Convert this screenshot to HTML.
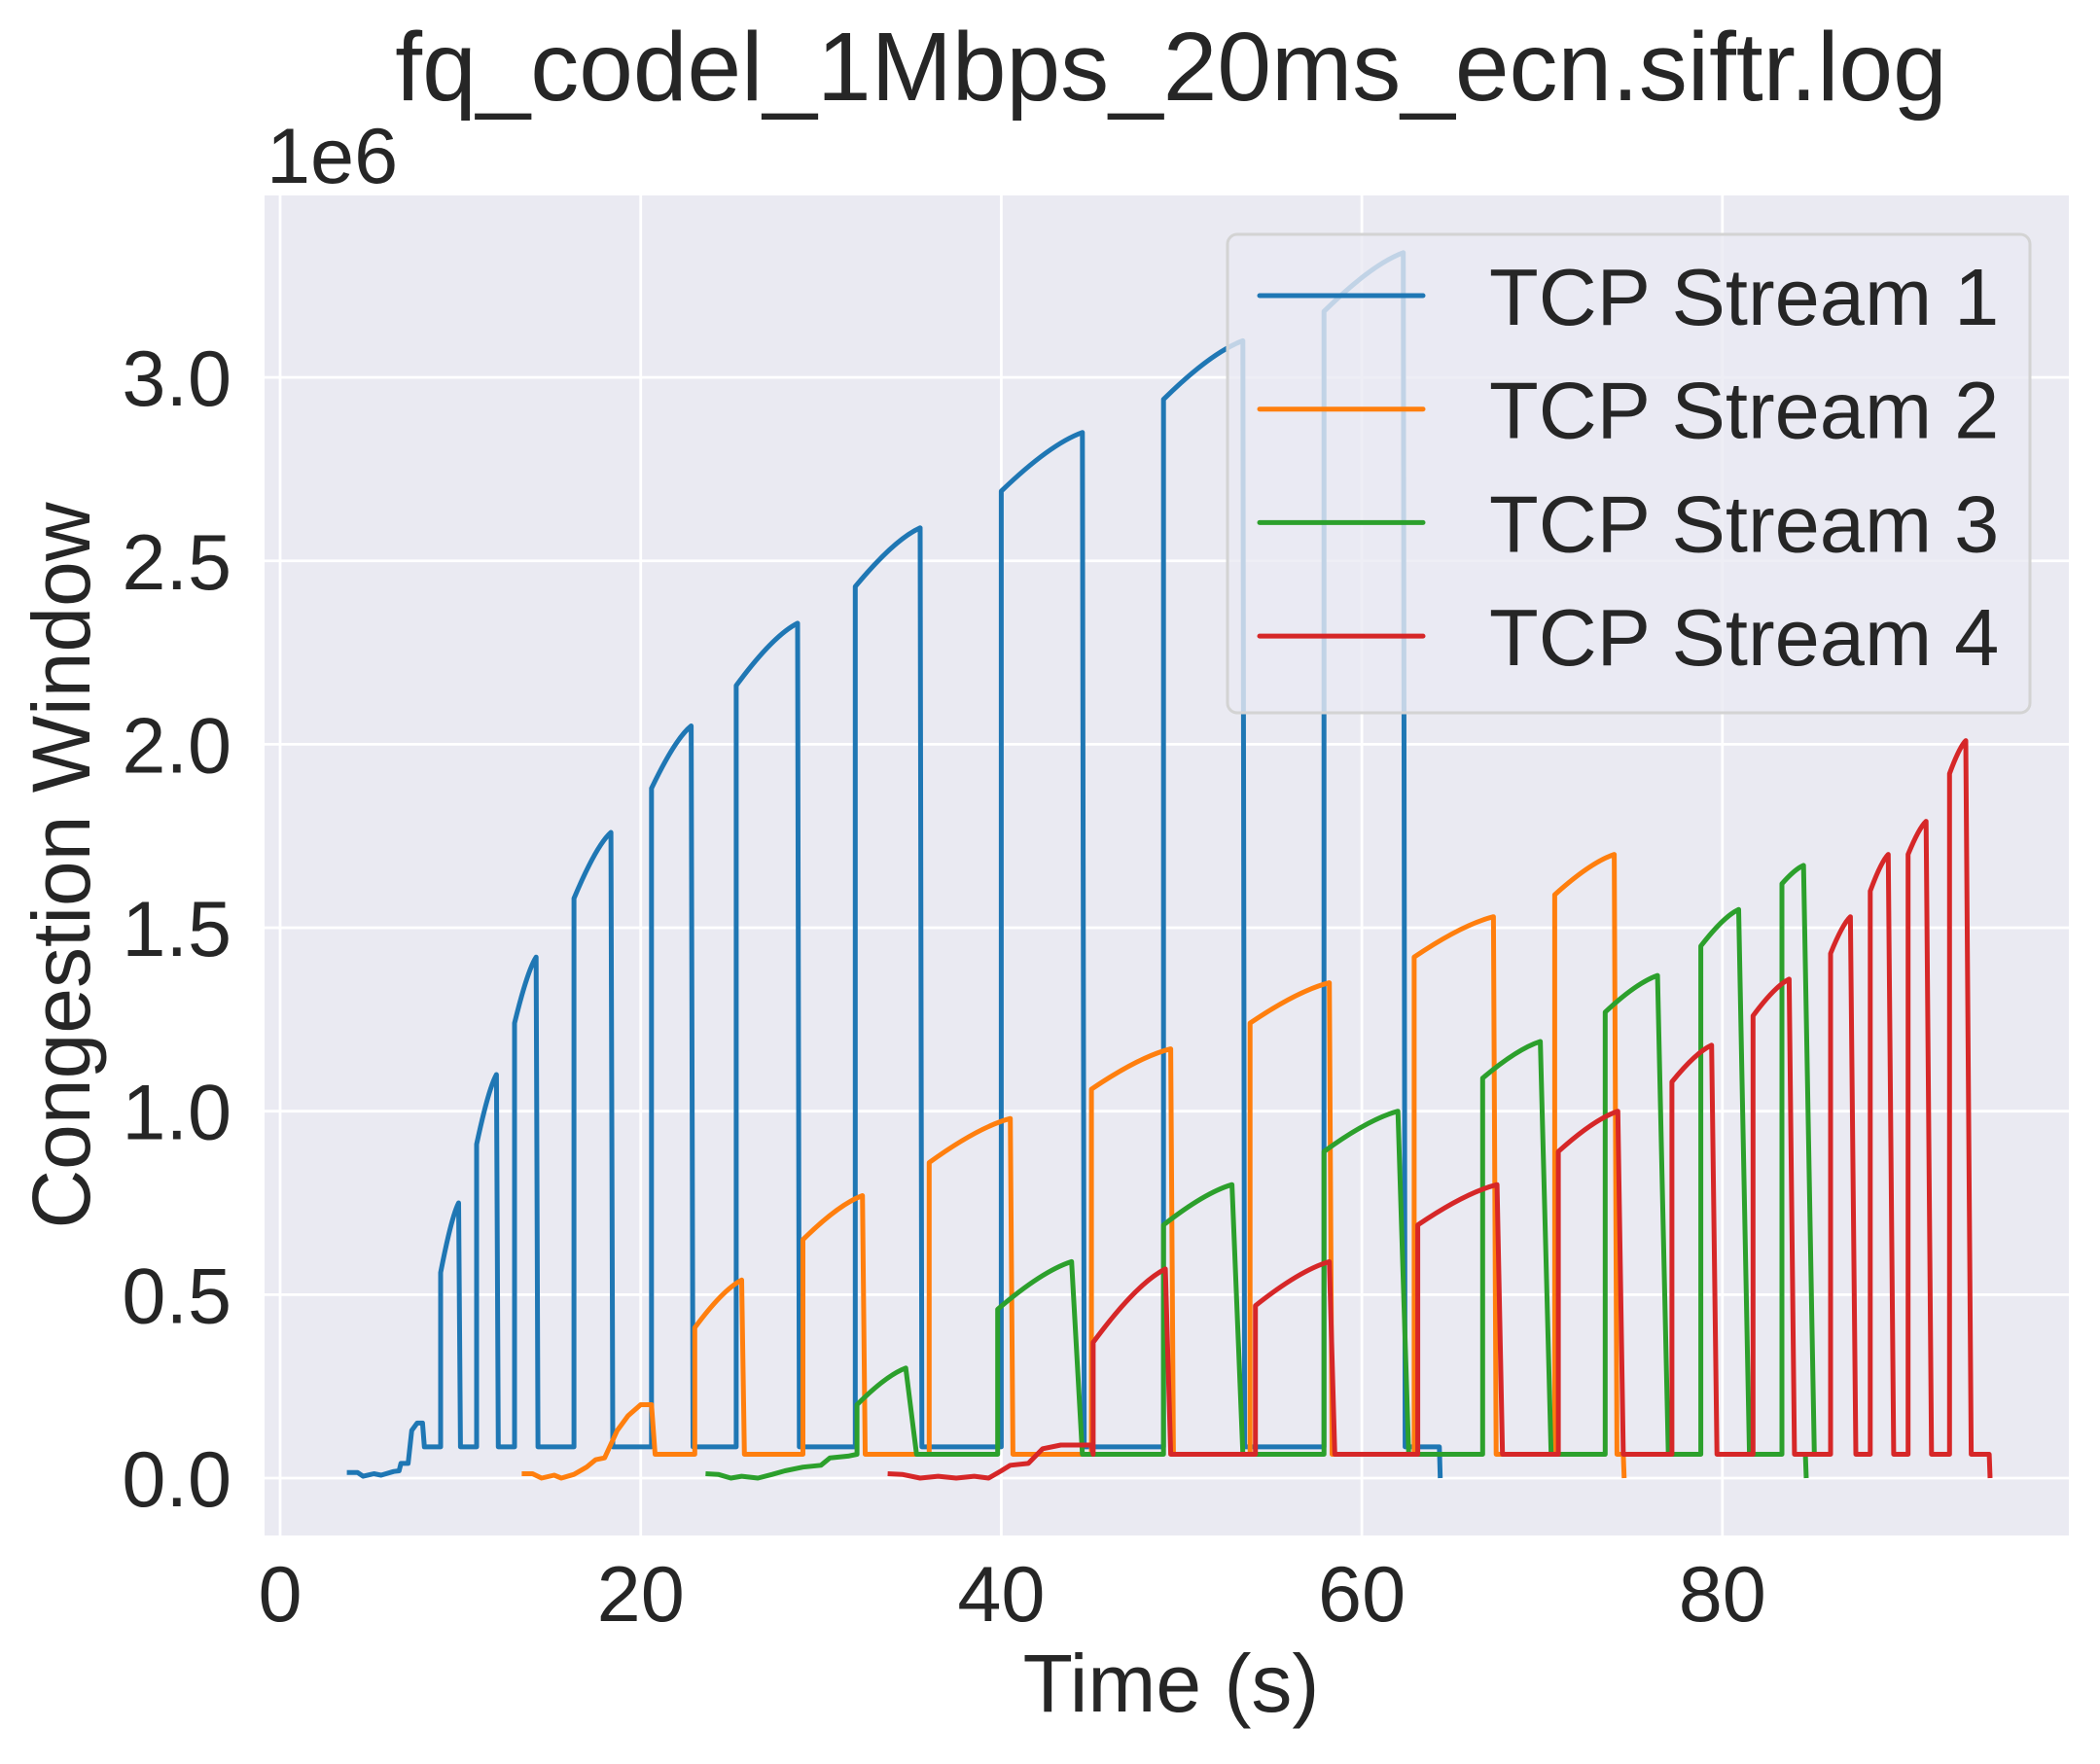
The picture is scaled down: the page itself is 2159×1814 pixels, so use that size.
<!DOCTYPE html>
<html><head><meta charset="utf-8"><style>
html,body{margin:0;padding:0;background:#fff;}
svg{display:block;font-family:"Liberation Sans",Arial,sans-serif;}
</style></head><body>
<svg id="chart" width="2159" height="1814" viewBox="0 0 2159 1814" xmlns="http://www.w3.org/2000/svg">
<rect x="0" y="0" width="2159" height="1814" fill="#fff"/>
<rect x="272" y="201" width="1855" height="1378" fill="#eaeaf2"/>
<g id="grid"></g>
<g id="series"></g>
<g id="ticks" fill="#262626" font-size="81"></g>
<text x="1204" y="103" text-anchor="middle" font-size="100" fill="#262626">fq_codel_1Mbps_20ms_ecn.siftr.log</text>
<text x="274" y="188" font-size="81" fill="#262626">1e6</text>
<text x="1204" y="1760" text-anchor="middle" font-size="84" fill="#262626">Time (s)</text>
<text transform="translate(92,890) rotate(-90)" text-anchor="middle" font-size="84" fill="#262626">Congestion Window</text>
<g id="legend"></g>
</svg>
<script>
const xTicks=[0,20,40,60,80];
const yTicks=[0,0.5,1.0,1.5,2.0,2.5,3.0];
const yTickLabels=["0.0","0.5","1.0","1.5","2.0","2.5","3.0"];
const seriesNames=["TCP Stream 1","TCP Stream 2","TCP Stream 3","TCP Stream 4"];
const colors=["#1f77b4","#ff7f0e","#2ca02c","#d62728"];
// pre-sawtooth points [t, value(1e6)]
const pre1=[[3.7,0.015],[4.3,0.015],[4.6,0.005],[5.2,0.012],[5.6,0.008],[6.3,0.018],[6.6,0.02],[6.7,0.04],[7.1,0.04],[7.3,0.13],[7.6,0.15],[7.9,0.15],[8.0,0.085]];
const pre2=[[13.4,0.012],[14.0,0.012],[14.5,0.0],[15.2,0.008],[15.6,0.0],[16.3,0.01],[17.0,0.03],[17.5,0.05],[18.0,0.055],[18.7,0.13],[19.3,0.17],[20.0,0.2],[20.6,0.2],[20.8,0.065]];
const pre3=[[23.6,0.012],[24.3,0.01],[25.0,0.0],[25.6,0.005],[26.5,0.0],[27.3,0.01],[28.0,0.02],[29.0,0.03],[30.0,0.035],[30.5,0.055],[31.5,0.06],[32.0,0.065]];
const pre4=[[33.7,0.012],[34.5,0.01],[35.5,0.0],[36.5,0.005],[37.5,0.0],[38.5,0.005],[39.3,0.0],[40.0,0.02],[40.5,0.035],[41.5,0.04],[42.3,0.08],[43.3,0.09],[45.0,0.09]];
// sawtooth cycles: rise time, value at rise, peak time, peak value
const rise1T=[8.9,10.9,13.0,16.3,20.6,25.3,31.9,40.0,49.0,57.9];
const rise1V=[0.56,0.91,1.24,1.58,1.88,2.16,2.43,2.69,2.94,3.18];
const peak1T=[9.9,12.0,14.2,18.35,22.8,28.7,35.5,44.5,53.4,62.3];
const peak1V=[0.75,1.10,1.42,1.76,2.05,2.33,2.59,2.85,3.10,3.34];
const rise2T=[23.0,29.0,36.0,45.0,53.8,62.9,70.7];
const rise2V=[0.41,0.65,0.86,1.06,1.24,1.42,1.59];
const peak2T=[25.6,32.3,40.5,49.4,58.2,67.3,74.0];
const peak2V=[0.54,0.77,0.98,1.17,1.35,1.53,1.70];
const rise3T=[32.0,39.8,49.0,57.9,66.7,73.5,78.8,83.3];
const rise3V=[0.20,0.46,0.69,0.89,1.09,1.27,1.45,1.62];
const peak3T=[34.7,43.9,52.8,62.0,69.9,76.4,80.9,84.5];
const peak3V=[0.30,0.59,0.80,1.00,1.19,1.37,1.55,1.67];
const rise4T=[45.1,54.1,63.1,70.9,77.2,81.7,86.0,88.2,90.3,92.6];
const rise4V=[0.37,0.47,0.69,0.89,1.08,1.26,1.43,1.60,1.70,1.92];
const peak4T=[49.1,58.2,67.5,74.2,79.4,83.7,87.1,89.2,91.3,93.5];
const peak4V=[0.57,0.59,0.80,1.00,1.18,1.36,1.53,1.70,1.79,2.01];
const baseV=[0.085,0.065,0.065,0.065];
const endT=[64.3,74.5,84.6,94.8];
const dropT=[0.1,0.15,0.6,0.3];

const X0=288, XS=18.535, Y0=1520, YS=377.3;
const xs=t=>X0+t*XS, ys=v=>Y0-v*YS;
const NS="http://www.w3.org/2000/svg";
function mk(tag,parent){const e=document.createElementNS(NS,tag);parent.appendChild(e);return e;}
const grid=document.getElementById('grid');
xTicks.forEach(t=>{const l=mk('line',grid);l.setAttribute('x1',xs(t));l.setAttribute('x2',xs(t));l.setAttribute('y1',201);l.setAttribute('y2',1579);l.setAttribute('stroke','#fff');l.setAttribute('stroke-width',2.8);

});
yTicks.forEach(v=>{const l=mk('line',grid);l.setAttribute('x1',272);l.setAttribute('x2',2127);l.setAttribute('y1',ys(v));l.setAttribute('y2',ys(v));l.setAttribute('stroke','#fff');l.setAttribute('stroke-width',2.8);

});
const ticks=document.getElementById('ticks');
xTicks.forEach(t=>{const e=mk('text',ticks);e.setAttribute('x',xs(t));e.setAttribute('y',1667);e.setAttribute('text-anchor','middle');e.textContent=t;

});
yTicks.forEach((v,i)=>{const e=mk('text',ticks);e.setAttribute('x',238);e.setAttribute('y',ys(v)+29);e.setAttribute('text-anchor','end');e.textContent=yTickLabels[i];

});
const pres=[pre1,pre2,pre3,pre4];
const R=[[rise1T,rise1V,peak1T,peak1V],[rise2T,rise2V,peak2T,peak2V],[rise3T,rise3V,peak3T,peak3V],[rise4T,rise4V,peak4T,peak4V]];
const sg=document.getElementById('series');
for(let s=0;s<4;s++){
  let d='';const p=pres[s];
  p.forEach((q,i)=>{d+=(i?'L':'M')+xs(q[0]).toFixed(1)+','+ys(q[1]).toFixed(1)+' ';});
  const [rt,rv,pt,pv]=R[s];const b=baseV[s];
  for(let i=0;i<rt.length;i++){
    d+='L'+xs(rt[i]).toFixed(1)+','+ys(b).toFixed(1)+' ';
    d+='L'+xs(rt[i]).toFixed(1)+','+ys(rv[i]).toFixed(1)+' ';
    const cx=xs(rt[i]+(pt[i]-rt[i])*0.6), cy=ys(pv[i]-(pv[i]-rv[i])*0.2);
    d+='Q'+cx.toFixed(1)+','+cy.toFixed(1)+' '+xs(pt[i]).toFixed(1)+','+ys(pv[i]).toFixed(1)+' ';
    d+='L'+xs(pt[i]+dropT[s]).toFixed(1)+','+ys(b).toFixed(1)+' ';
  }
  d+='L'+xs(endT[s]).toFixed(1)+','+ys(b).toFixed(1)+' L'+xs(endT[s]+0.05).toFixed(1)+','+ys(0).toFixed(1);
  const path=mk('path',sg);path.setAttribute('d',d);path.setAttribute('fill','none');path.setAttribute('stroke',colors[s]);path.setAttribute('stroke-width',5);path.setAttribute('stroke-linejoin','round');
  
  
}
const lg=document.getElementById('legend');
const box=mk('rect',lg);box.setAttribute('x',1262);box.setAttribute('y',241);box.setAttribute('width',825);box.setAttribute('height',492);box.setAttribute('rx',10);box.setAttribute('fill','#eaeaf2');box.setAttribute('fill-opacity',0.8);box.setAttribute('stroke','#d3d3d3');box.setAttribute('stroke-width',3);


seriesNames.forEach((n,i)=>{const y=304+i*116.7;
 const l=mk('line',lg);l.setAttribute('x1',1295);l.setAttribute('x2',1463);l.setAttribute('y1',y);l.setAttribute('y2',y);l.setAttribute('stroke',colors[i]);l.setAttribute('stroke-width',5);l.setAttribute('stroke-linecap','round');
 
 
 const t=mk('text',lg);t.setAttribute('x',1531);t.setAttribute('y',y+30);t.setAttribute('font-size',83);t.setAttribute('fill','#262626');t.textContent=n;
 
 
});
</script>
</body></html>
